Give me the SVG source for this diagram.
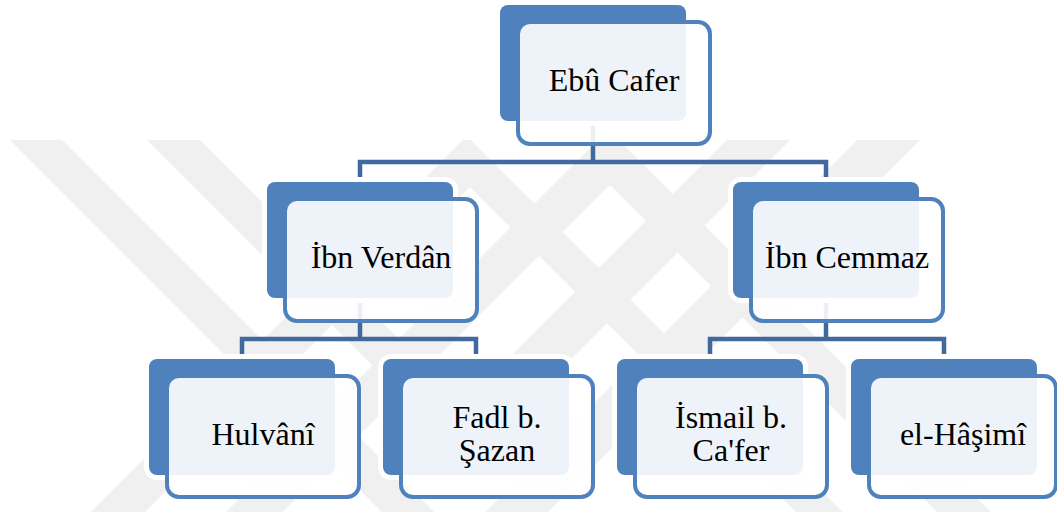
<svg xmlns="http://www.w3.org/2000/svg" width="1057" height="516" viewBox="0 0 1057 516">
<style>
.wm{fill:#F0F0F0}
.conn{fill:none;stroke:#41699D;stroke-width:4.5}
.halo{fill:#FFFFFF;stroke:#FFFFFF;stroke-width:10}
.back{fill:#4F81BD}
.front{fill:#FFFFFF;fill-opacity:0.9;stroke:#4F81BD;stroke-width:4}
.lbl{font-family:"Liberation Serif","Times New Roman",serif;font-size:32px;fill:#000;text-anchor:middle}
</style>
<rect width="1057" height="516" fill="#FFFFFF"/>
<g id="watermark">
<polygon class="wm" points="10,140 62,140 434,512 382,512"/>
<polygon class="wm" points="857,140 920,140 548,512 485,512"/>
<polygon class="wm" points="147,140 200,140 463.5,403.5 727,140 790,140 468.5,461.5"/>
<polygon class="wm" points="91,512 145,512 470,187 796,512 843,512 471,140 463,140"/>
<polygon class="wm" points="226,512 283,512 610,185 937,512 991,512 619,140 598,140"/>
</g>
<g id="connectors">
<path class="conn" d="M593,121 V162"/>
<path class="conn" d="M360,184 V162 H826 V184"/>
<path class="conn" d="M360,298 V339"/>
<path class="conn" d="M242,361 V339 H476 V361"/>
<path class="conn" d="M826,298 V339"/>
<path class="conn" d="M710,361 V339 H944 V361"/>
</g>
<g id="n-ebu-cafer">
<rect class="halo" x="500" y="5" width="186" height="116" rx="8"/>
<rect class="back" x="500" y="5" width="186" height="116" rx="8"/>
<rect class="front" x="518" y="22" width="192" height="122" rx="12"/>
<text class="lbl" x="614" y="91">Ebû Cafer</text>
</g>
<g id="n-ibn-verdan">
<rect class="halo" x="267" y="182" width="186" height="116" rx="8"/>
<rect class="back" x="267" y="182" width="186" height="116" rx="8"/>
<rect class="front" x="285" y="199" width="192" height="122" rx="12"/>
<text class="lbl" x="381" y="268">İbn Verdân</text>
</g>
<g id="n-ibn-cemmaz">
<rect class="halo" x="733" y="182" width="186" height="116" rx="8"/>
<rect class="back" x="733" y="182" width="186" height="116" rx="8"/>
<rect class="front" x="751" y="199" width="192" height="122" rx="12"/>
<text class="lbl" x="847" y="268">İbn Cemmaz</text>
</g>
<g id="n-hulvani">
<rect class="halo" x="149" y="359" width="186" height="116" rx="8"/>
<rect class="back" x="149" y="359" width="186" height="116" rx="8"/>
<rect class="front" x="167" y="376" width="192" height="121" rx="12"/>
<text class="lbl" x="263" y="445">Hulvânî</text>
</g>
<g id="n-fadl">
<rect class="halo" x="383" y="359" width="186" height="116" rx="8"/>
<rect class="back" x="383" y="359" width="186" height="116" rx="8"/>
<rect class="front" x="401" y="376" width="192" height="121" rx="12"/>
<text class="lbl" x="497" y="428">Fadl b.</text>
<text class="lbl" x="497" y="461">Şazan</text>
</g>
<g id="n-ismail">
<rect class="halo" x="617" y="359" width="186" height="116" rx="8"/>
<rect class="back" x="617" y="359" width="186" height="116" rx="8"/>
<rect class="front" x="635" y="376" width="192" height="121" rx="12"/>
<text class="lbl" x="731" y="428">İsmail b.</text>
<text class="lbl" x="731" y="461">Ca'fer</text>
</g>
<g id="n-hasimi">
<rect class="halo" x="851" y="359" width="186" height="116" rx="8"/>
<rect class="back" x="851" y="359" width="186" height="116" rx="8"/>
<rect class="front" x="869" y="376" width="187" height="121" rx="12"/>
<text class="lbl" x="963" y="445">el-Hâşimî</text>
</g>
</svg>
